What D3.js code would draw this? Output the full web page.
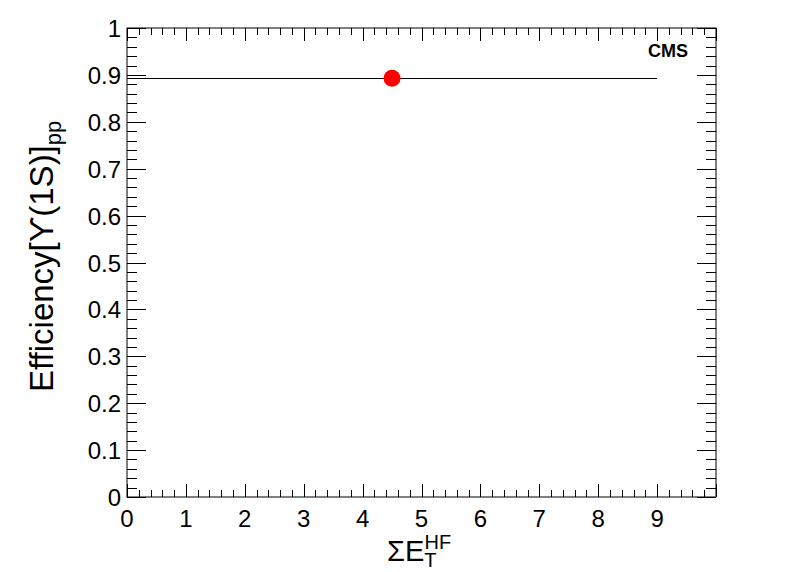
<!DOCTYPE html>
<html>
<head>
<meta charset="utf-8">
<script src="https://cdn.jsdelivr.net/npm/d3@7"></script>
<style>
  body { margin: 0; background: #fff; }
  svg { display: block; font-family: "Liberation Sans", Arial, sans-serif; }
</style>
</head>
<body>
<div id="vis"></div>
<script>
// one point: efficiency of Upsilon(1S) in pp, integrated over sum ET HF
const x_values = [4.5];
const x_err = [4.5];
const eff_values = [0.893];
const x_ticks = [0, 1, 2, 3, 4, 5, 6, 7, 8, 9];
const y_ticks = [0, 0.1, 0.2, 0.3, 0.4, 0.5, 0.6, 0.7, 0.8, 0.9, 1];

const frame_width = 796;
const frame_height = 572;
const margins = {left: 127, right: 80, top: 28, bottom: 75};

const x_scale = d3.scaleLinear()
    .domain([0, 10])
    .range([margins.left, frame_width - margins.right]);

const y_scale = d3.scaleLinear()
    .domain([0, 1])
    .range([frame_height - margins.bottom, margins.top]);

const svg = d3.select("#vis")
    .append("svg")
        .attr("width", frame_width)
        .attr("height", frame_height);

const x0 = x_scale.range()[0], x1 = x_scale.range()[1];
const y0 = y_scale.range()[0], y1 = y_scale.range()[1];

// frame
svg.append("rect")
    .attr("x", x0).attr("y", y1)
    .attr("width", x1 - x0).attr("height", y0 - y1)
    .attr("fill", "none").attr("stroke", "#000").attr("stroke-width", 1);

// ticks on all four sides, ROOT style (inside)
const x_minor = d3.range(0, 10.001, 0.2);
const y_minor = d3.range(0, 1.0001, 0.02);

x_minor.forEach((v, i) => {
    const len = (i % 5 === 0) ? 13 : 7;
    const px = Math.round(x_scale(v)) + 0.5;
    svg.append("line").attr("x1", px).attr("x2", px)
        .attr("y1", y0).attr("y2", y0 - len).attr("stroke", "#000");
    svg.append("line").attr("x1", px).attr("x2", px)
        .attr("y1", y1).attr("y2", y1 + len).attr("stroke", "#000");
});

y_minor.forEach((v, i) => {
    const len = (i % 5 === 0) ? 19 : 10;
    const py = Math.round(y_scale(v)) + 0.5;
    svg.append("line").attr("x1", x0).attr("x2", x0 + len)
        .attr("y1", py).attr("y2", py).attr("stroke", "#000");
    svg.append("line").attr("x1", x1).attr("x2", x1 - len)
        .attr("y1", py).attr("y2", py).attr("stroke", "#000");
});

// tick labels
svg.selectAll(".xlab")
    .data(x_ticks)
    .enter()
    .append("text")
        .attr("x", (d) => x_scale(d))
        .attr("y", y0 + 30)
        .attr("text-anchor", "middle")
        .attr("font-size", "24px")
        .text((d) => d);

svg.selectAll(".ylab")
    .data(y_ticks)
    .enter()
    .append("text")
        .attr("x", x0 - 6)
        .attr("y", (d) => y_scale(d) + 9)
        .attr("text-anchor", "end")
        .attr("font-size", "24px")
        .text((d) => d);

// axis titles
const xt = svg.append("text")
    .attr("x", 387)
    .attr("y", 561)
    .attr("text-anchor", "start")
    .attr("font-size", "29px");
xt.append("tspan").text("\u03A3E");
xt.append("tspan").attr("font-size", "20px").attr("dy", 6).text("T");
xt.append("tspan").attr("font-size", "20px").attr("dx", -12).attr("dy", -18).text("HF");

const yt = svg.append("text")
    .attr("transform", "translate(53,392) rotate(-90)")
    .attr("text-anchor", "start")
    .attr("font-size", "33px");
yt.append("tspan").text("Efficiency[\u03D2(1S)]");
yt.append("tspan").attr("font-size", "22px").attr("dy", 8).text("pp");

// CMS label
svg.append("text")
    .attr("x", 688).attr("y", 57)
    .attr("text-anchor", "end")
    .attr("font-size", "18px")
    .attr("font-weight", "bold")
    .text("CMS");

// error bars and points
svg.selectAll(".err")
    .data(x_values)
    .enter()
    .append("line")
        .attr("x1", (d, i) => x_scale(d - x_err[i]))
        .attr("x2", (d, i) => x_scale(d + x_err[i]))
        .attr("y1", (d, i) => Math.round(y_scale(eff_values[i])) + 0.5)
        .attr("y2", (d, i) => Math.round(y_scale(eff_values[i])) + 0.5)
        .attr("stroke", "#000")
        .attr("stroke-width", 1);

svg.selectAll(".pt")
    .data(x_values)
    .enter()
    .append("circle")
        .attr("cx", (d) => x_scale(d))
        .attr("cy", (d, i) => y_scale(eff_values[i]))
        .attr("r", 8.5)
        .attr("fill", "#ff0000");
</script>
</body>
</html>
